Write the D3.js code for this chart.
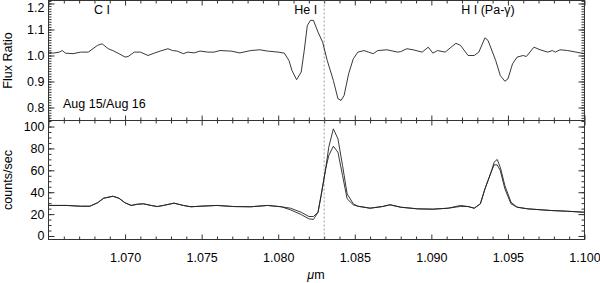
<!DOCTYPE html>
<html>
<head>
<meta charset="utf-8">
<script src="https://cdn.jsdelivr.net/npm/d3@7"></script>
<style>
  body { margin: 0; background: #fff; }
  svg { display: block; }
</style>
</head>
<body>
<div id="chart"></div>
<script>
// ---- data ----
// top panel: flux ratio Aug 15 / Aug 16
var ratioWave = [1.0650,1.0653,1.0657,1.0659,1.0661,1.0666,1.0671,1.0676,1.0682,1.0685,
                 1.0689,1.0692,1.0696,1.0700,1.0702,1.0706,1.0710,1.0715,1.0719,1.0723,
                 1.0728,1.0731,1.0734,1.0738,1.0741,1.0745,1.0749,1.0754,1.0758,1.0762,
                 1.0769,1.0775,1.0782,1.0788,1.0793,1.0800,1.0804,1.0807,1.0809,1.0812,
                 1.0815,1.0817,1.0819,1.0821,1.0823,1.0826,1.0829,1.0832,1.0836,1.0839,
                 1.0841,1.0843,1.0846,1.0849,1.0852,1.0856,1.0859,1.0862,1.0865,1.0871,
                 1.0878,1.0880,1.0884,1.0888,1.0894,1.0898,1.0901,1.0904,1.0909,1.0916,
                 1.0919,1.0924,1.0928,1.0931,1.0935,1.0937,1.0942,1.0945,1.0948,1.0950,
                 1.0953,1.0956,1.0960,1.0962,1.0967,1.0971,1.0976,1.0979,1.0981,1.0984,
                 1.0989,1.1000];
var ratioVals = [1.013,1.009,1.013,1.019,1.009,1.007,1.013,1.013,1.039,1.045,
                 1.026,1.019,1.007,0.994,0.996,1.013,1.013,1.000,1.009,1.017,
                 1.026,1.019,1.017,1.007,1.013,1.010,1.017,1.013,1.013,1.019,
                 1.017,1.010,1.019,1.022,1.017,1.013,1.009,0.981,0.942,0.907,
                 0.936,1.019,1.115,1.135,1.135,1.090,1.051,0.981,0.904,0.834,
                 0.827,0.846,0.930,0.987,1.013,1.019,1.013,1.007,1.019,1.022,
                 1.013,1.015,1.026,1.022,1.013,1.032,1.009,1.019,1.013,1.047,
                 1.039,1.000,1.000,1.013,1.068,1.058,0.981,0.923,0.901,0.910,
                 0.968,0.994,1.000,0.996,1.032,1.022,1.013,1.019,1.013,1.022,
                 1.019,1.007];

// bottom panel: counts/sec on the two nights
var countWave = [1.0650,1.0662,1.0671,1.0677,1.0682,1.0686,1.0692,1.0696,1.0700,1.0704,
                 1.0708,1.0712,1.0717,1.0721,1.0725,1.0732,1.0738,1.0743,1.0749,1.0760,
                 1.0771,1.0782,1.0793,1.0802,1.0808,1.0815,1.0820,1.0823,1.0826,1.0828,
                 1.0831,1.0833,1.0836,1.0839,1.0842,1.0845,1.0849,1.0852,1.0860,1.0868,
                 1.0873,1.0880,1.0891,1.0901,1.0911,1.0919,1.0924,1.0928,1.0932,1.0935,
                 1.0939,1.0941,1.0943,1.0945,1.0948,1.0952,1.0956,1.0963,1.0969,1.0978,
                 1.0989,1.1000];
var countsAug15 = [27.9,27.9,27.2,27.2,30.3,34.5,36.3,34.5,30.3,27.9,
                   29.0,29.4,27.9,26.9,27.9,30.0,27.9,26.7,27.2,27.9,
                   26.9,26.7,27.9,26.7,25.4,21.7,17.8,17.8,21.7,37.0,
                   61.4,73.5,82.0,76.5,55.3,34.0,28.5,27.2,25.4,26.9,
                   28.5,26.3,24.8,24.5,25.4,27.0,26.9,25.4,29.4,43.1,
                   58.3,65.0,65.0,59.8,43.1,29.4,26.3,24.8,24.2,23.3,
                   22.6,21.7];
var countsAug16 = [27.9,27.9,27.2,27.2,30.3,34.5,36.3,34.5,30.3,27.9,
                   29.0,29.4,27.9,26.9,27.9,30.0,27.9,26.7,27.2,27.9,
                   26.9,26.7,27.9,26.7,23.9,19.6,15.7,15.1,21.7,37.0,
                   61.4,81.1,97.9,88.8,64.4,38.5,29.4,27.2,25.4,26.9,
                   28.5,26.3,24.8,24.5,25.4,27.9,26.9,25.4,29.4,43.1,
                   58.3,67.4,69.9,62.8,46.1,30.9,26.3,24.8,24.2,23.3,
                   22.6,21.7];

// tick labels / line ids
var xLabelTicks = [1.070,1.075,1.080,1.085,1.090,1.095,1.100];
var ratioTicks = [0.8,0.9,1.0,1.1,1.2];
var countTicks = [0,20,40,60,80,100];
var lineNames = ["C I","He I","H I (Pa-\u03b3)"];
var lineWaves = [1.0685,1.0818,1.0937];
var heWave = 1.0830;

// ---- layout ----
var width = 600, height = 283;
var left = 48.5, right = 584.5;
var topPanel = [0.5, 120.5], botPanel = [120.5, 239.5];
var font = "'Liberation Sans', Arial, Helvetica, sans-serif";
var fsize = 12.5;

var svg = d3.select("#chart").append("svg")
    .attr("width", width).attr("height", height);

var x = d3.scaleLinear().domain([1.065, 1.100]).range([left, right]);
var yRatio = d3.scaleLinear().domain([0.75, 1.2115]).range([topPanel[1], topPanel[0]]);
var yCount = d3.scaleLinear().domain([-3.2, 105.5]).range([botPanel[1], botPanel[0]]);

var minorX = d3.range(1065, 1101).filter(function(d) { return d % 5 != 0; }).map(function(d) { return d / 1000; });
var majorX = d3.range(1065, 1101, 5).map(function(d) { return d / 1000; });

function cleanAxis(g) {
  g.select(".domain").remove();
  g.selectAll("line").attr("stroke", "#333");
  g.attr("font-family", font).attr("font-size", fsize);
  g.selectAll("text").attr("fill", "#000");
}

// draws the frame and inward ticks on all four sides
function drawFrame(y, span, majorY, minorY, showX) {
  var t = span[0], b = span[1];
  // x ticks bottom and top
  svg.append("g").attr("transform", "translate(0," + b + ")")
     .call(d3.axisBottom(x).tickValues(minorX).tickSize(-3).tickFormat(""))
     .call(cleanAxis);
  svg.append("g").attr("transform", "translate(0," + b + ")")
     .call(d3.axisBottom(x).tickValues(showX ? xLabelTicks : majorX).tickSize(-5).tickPadding(14)
           .tickFormat(showX ? d3.format(".3f") : ""))
     .call(cleanAxis);
  svg.append("g").attr("transform", "translate(0," + t + ")")
     .call(d3.axisTop(x).tickValues(minorX).tickSize(-3).tickFormat(""))
     .call(cleanAxis);
  svg.append("g").attr("transform", "translate(0," + t + ")")
     .call(d3.axisTop(x).tickValues(majorX).tickSize(-5).tickFormat(""))
     .call(cleanAxis);
  // y ticks left and right
  svg.append("g").attr("transform", "translate(" + left + ",0)")
     .call(d3.axisLeft(y).tickValues(minorY).tickSize(-3).tickFormat(""))
     .call(cleanAxis);
  svg.append("g").attr("transform", "translate(" + right + ",0)")
     .call(d3.axisRight(y).tickValues(minorY).tickSize(-3).tickFormat(""))
     .call(cleanAxis);
  svg.append("g").attr("transform", "translate(" + right + ",0)")
     .call(d3.axisRight(y).tickValues(majorY.vals).tickSize(-6).tickFormat(""))
     .call(cleanAxis);
  var ly = svg.append("g").attr("transform", "translate(" + left + ",0)")
     .call(d3.axisLeft(y).tickValues(majorY.vals).tickSize(-6).tickPadding(4).tickFormat(majorY.fmt))
     .call(cleanAxis);
  // keep the topmost label inside the picture
  ly.selectAll(".tick text").attr("y", function(d) { return y(d) < 7 ? 7 - y(d) : 0; });

  svg.append("rect")
     .attr("x", left).attr("y", t)
     .attr("width", right - left).attr("height", b - t)
     .attr("fill", "none").attr("stroke", "#333").attr("stroke-width", 1);
}

var minorRatio = d3.range(75, 122).map(function(d) { return d / 100; });
var minorCount = d3.range(0, 106, 5);

drawFrame(yRatio, topPanel, { vals: ratioTicks, fmt: d3.format(".1f") }, minorRatio, false);
drawFrame(yCount, botPanel, { vals: countTicks, fmt: d3.format("d") }, minorCount, true);

// dotted He I line across both panels
svg.append("line")
   .attr("x1", x(heWave)).attr("x2", x(heWave))
   .attr("y1", topPanel[0]).attr("y2", botPanel[1])
   .attr("stroke", "#888").attr("stroke-width", 0.8)
   .attr("stroke-dasharray", "2,2");

// the curves
var ratioLine = d3.line()
    .x(function(d, i) { return x(ratioWave[i]); })
    .y(function(d) { return yRatio(d); });
svg.append("path").datum(ratioVals)
   .attr("d", ratioLine)
   .attr("fill", "none").attr("stroke", "#222").attr("stroke-width", 0.9);

var countLine = d3.line()
    .x(function(d, i) { return x(countWave[i]); })
    .y(function(d) { return yCount(d); });
[countsAug15, countsAug16].forEach(function(s) {
  svg.append("path").datum(s)
     .attr("d", countLine)
     .attr("fill", "none").attr("stroke", "#222").attr("stroke-width", 0.9);
});

// line identifications
svg.selectAll(".lineid").data(lineNames).enter().append("text")
   .attr("class", "lineid")
   .attr("x", function(d, i) { return x(lineWaves[i]); })
   .attr("y", 13.5)
   .attr("text-anchor", "middle")
   .attr("font-family", font).attr("font-size", fsize)
   .text(function(d) { return d; });

svg.append("text")
   .attr("x", 63).attr("y", 108)
   .attr("font-family", font).attr("font-size", fsize)
   .text("Aug 15/Aug 16");

// axis titles
svg.append("text")
   .attr("transform", "translate(12," + ((topPanel[0] + topPanel[1]) / 2) + ") rotate(-90)")
   .attr("text-anchor", "middle")
   .attr("font-family", font).attr("font-size", fsize)
   .text("Flux Ratio");
svg.append("text")
   .attr("transform", "translate(12," + ((botPanel[0] + botPanel[1]) / 2) + ") rotate(-90)")
   .attr("text-anchor", "middle")
   .attr("font-family", font).attr("font-size", fsize)
   .text("counts/sec");

var xt = svg.append("text")
   .attr("x", 316).attr("y", 279)
   .attr("text-anchor", "middle")
   .attr("font-family", font).attr("font-size", fsize);
xt.append("tspan").attr("font-style", "italic").text("\u03bc");
xt.append("tspan").text("m");
</script>
</body>
</html>
